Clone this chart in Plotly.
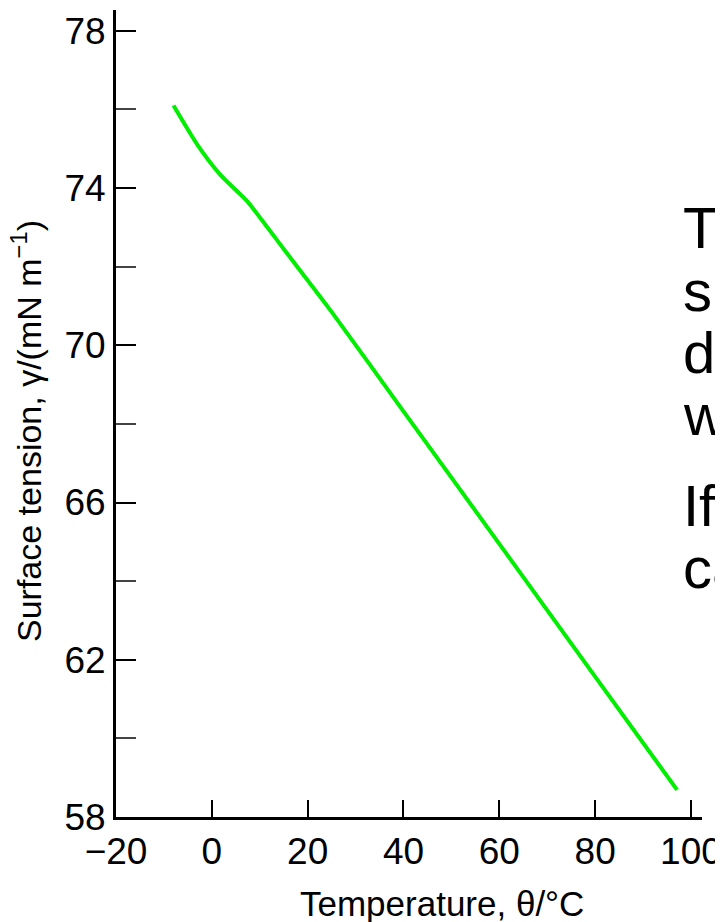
import plotly.graph_objects as go

# Data
temperature_c = [-8, -3, 1.7, 5, 7.5, 15, 24.7, 40, 60, 80, 97.1]
surface_tension = [76.1, 75.1, 74.35, 73.95, 73.65, 72.45, 70.9, 68.32, 64.95, 61.57, 58.69]

x_tickvals = [-20, 0, 20, 40, 60, 80, 100]
x_ticktext = ["\u221220", "0", "20", "40", "60", "80", "100"]
y_tickvals = [58, 62, 66, 70, 74, 78]
y_ticktext = ["58", "62", "66", "70", "74", "78"]

side_lines = ["Th", "su", "de", "w", "If", "ca"]
side_centers_px = [228, 290, 352, 414, 505, 567]

# page has an 8px body margin; figure is sized/offset to compensate
OFF = 8
W, H = 723 - OFF, 922 - OFF
PL, PR, PT, PB = 116, 702, 10, 817          # plot box in window pixels
L, R, T, B = PL - OFF, W - (PR - OFF), PT - OFF, H - (PB - OFF)
pw, ph = PR - PL, PB - PT


def px_x(p):
    return (p - PL) / pw


def px_y(p):
    return (PB - p) / ph


fig = go.Figure()
fig.add_trace(go.Scatter(
    x=temperature_c, y=surface_tension, mode="lines",
    line=dict(color="#00EE00", width=4, shape="spline", smoothing=0.6),
    hoverinfo="skip", showlegend=False,
))

font_family = "Liberation Sans, Arial, sans-serif"

fig.update_layout(
    width=W, height=H,
    margin=dict(l=L, r=R, t=T, b=B),
    paper_bgcolor="white", plot_bgcolor="white",
    showlegend=False,
    font=dict(family=font_family, color="black"),
)
fig.update_xaxes(
    range=[-20, 102.3], tickvals=x_tickvals, ticktext=x_ticktext,
    ticks="inside", ticklen=17, tickwidth=2, tickcolor="black",
    showline=True, linecolor="black", linewidth=3,
    showgrid=False, zeroline=False,
    tickfont=dict(size=37, family=font_family, color="black"),
    ticklabelstandoff=0,
)
fig.update_yaxes(
    range=[58, 78.53], tickvals=y_tickvals, ticktext=y_ticktext,
    ticks="inside", ticklen=20, tickwidth=2, tickcolor="black",
    minor=dict(tick0=58, dtick=2, ticks="inside", ticklen=20, tickwidth=2,
               tickcolor="#444444", showgrid=False),
    showline=True, linecolor="black", linewidth=3,
    showgrid=False, zeroline=False,
    tickfont=dict(size=37, family=font_family, color="black"),
    ticklabelstandoff=0,
)

# Axis titles as annotations for precise placement
fig.add_annotation(
    text="Temperature, \u03b8/\u00b0C", xref="paper", yref="paper",
    x=px_x(442), y=px_y(903), xanchor="center", yanchor="middle",
    showarrow=False, font=dict(size=35, family=font_family, color="black"),
)
fig.add_annotation(
    text="Surface tension, \u03b3/(mN m<sup>\u22121</sup>)", xref="paper", yref="paper",
    x=px_x(27), y=px_y(431), xanchor="center", yanchor="middle",
    textangle=-90, showarrow=False,
    font=dict(size=34, family=font_family, color="black"),
)

for txt, cy in zip(side_lines, side_centers_px):
    fig.add_annotation(
        text=txt, xref="paper", yref="paper",
        x=px_x(681), y=px_y(cy), xanchor="left", yanchor="middle",
        showarrow=False, font=dict(size=58, family=font_family, color="black"),
    )

fig.write_html("out.html")
